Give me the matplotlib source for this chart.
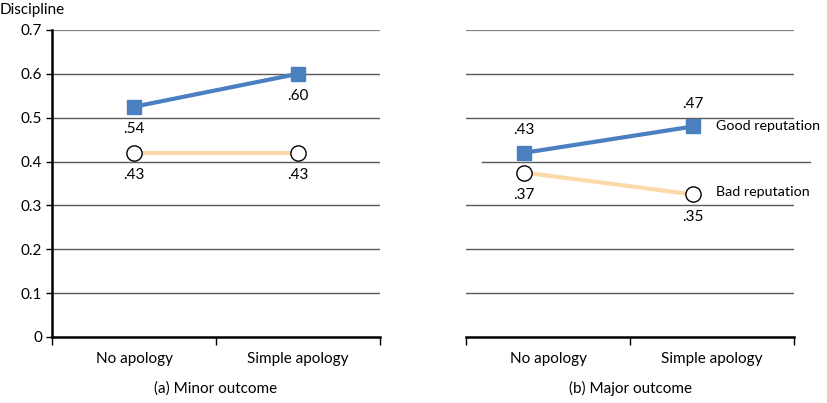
import matplotlib.pyplot as plt

plt.rcParams['font.family'] = ['Lato', 'DejaVu Sans']

categories = ['No apology', 'Simple apology']
yticks = [0, 0.1, 0.2, 0.3, 0.4, 0.5, 0.6, 0.7]
ytick_labels = ['0', '0.1', '0.2', '0.3', '0.4', '0.5', '0.6', '0.7']

# values as drawn in the figure
minor_good = [0.525, 0.60]
minor_bad = [0.42, 0.42]
major_good = [0.42, 0.48]
major_bad = [0.375, 0.325]

# printed labels
minor_good_lbl = ['.54', '.60']
minor_bad_lbl = ['.43', '.43']
major_good_lbl = ['.43', '.47']
major_bad_lbl = ['.37', '.35']

BLUE = '#4a7fc0'
ORANGE = '#fcd9a8'
GRID = '#5a5a5a'
FS = 11

fig = plt.figure(figsize=(8.27, 4.03), dpi=100)
ax1 = fig.add_axes([0.0629, 0.1638, 0.3966, 0.7618])
ax2 = fig.add_axes([0.5635, 0.1638, 0.3966, 0.7618])


def style(ax, left_spine):
    ax.set_xlim(0, 2)
    ax.set_ylim(0, 0.7)
    for y in yticks[1:]:
        if not left_spine and y == 0.4:
            # offset gridline in the right panel
            ax.axhline(y, xmin=0.05, xmax=1.05, color=GRID, lw=1.0, zorder=1, clip_on=False)
            continue
        ax.axhline(y, color=GRID if y < 0.7 else '#808080', lw=1.0 if y < 0.7 else 1.6, zorder=1)
    for s in ['top', 'right']:
        ax.spines[s].set_visible(False)
    ax.spines['bottom'].set_linewidth(1.8)
    ax.spines['left'].set_linewidth(1.8)
    ax.spines['left'].set_visible(left_spine)
    ax.set_xticks([0.5, 1.5])
    ax.set_xticklabels(categories, fontsize=FS)
    ax.tick_params(axis='x', which='major', length=0, pad=11)
    ax.set_xticks([0, 1, 2], minor=True)
    ax.tick_params(axis='x', which='minor', length=6, width=1, direction='out')
    if left_spine:
        ax.set_yticks(yticks)
        ax.set_yticklabels(ytick_labels, fontsize=FS)
        ax.tick_params(axis='y', length=4, width=1, pad=3)
    else:
        ax.set_yticks([])


style(ax1, True)
style(ax2, False)

# left panel
xl = [0.5, 1.5]
ax1.plot(xl, minor_bad, color=ORANGE, lw=3, zorder=2)
ax1.plot(xl, minor_bad, 'o', ms=11, mfc='white', mec='black', mew=1, zorder=3)
ax1.plot(xl, minor_good, color=BLUE, lw=3, marker='s', ms=10, zorder=4)
for x, y, t in zip(xl, minor_good, minor_good_lbl):
    ax1.text(x, y - 0.035, t, ha='center', va='top', fontsize=FS)
for x, y, t in zip(xl, minor_bad, minor_bad_lbl):
    ax1.text(x, y - 0.035, t, ha='center', va='top', fontsize=FS)

# right panel
xr = [0.355, 1.385]
ax2.plot(xr, major_bad, color=ORANGE, lw=3, zorder=2)
ax2.plot(xr, major_bad, 'o', ms=11, mfc='white', mec='black', mew=1, zorder=3)
ax2.plot(xr, major_good, color=BLUE, lw=3, marker='s', ms=10, zorder=4)
for x, y, t in zip(xr, major_good, major_good_lbl):
    ax2.text(x, y + 0.035, t, ha='center', va='bottom', fontsize=FS)
for x, y, t in zip(xr, major_bad, major_bad_lbl):
    ax2.text(x, y - 0.035, t, ha='center', va='top', fontsize=FS)
ax2.text(xr[1] + 0.14, major_good[1], 'Good reputation', ha='left', va='center', fontsize=10.3)
ax2.text(xr[1] + 0.14, major_bad[1] + 0.005, 'Bad reputation', ha='left', va='center', fontsize=10.3)

fig.text(0.0, 0.975, 'Discipline', ha='left', va='center', fontsize=FS)
fig.text(0.261, 0.037, '(a) Minor outcome', ha='center', va='center', fontsize=FS)
fig.text(0.762, 0.037, '(b) Major outcome', ha='center', va='center', fontsize=FS)

fig.savefig('out.png', dpi=100)
